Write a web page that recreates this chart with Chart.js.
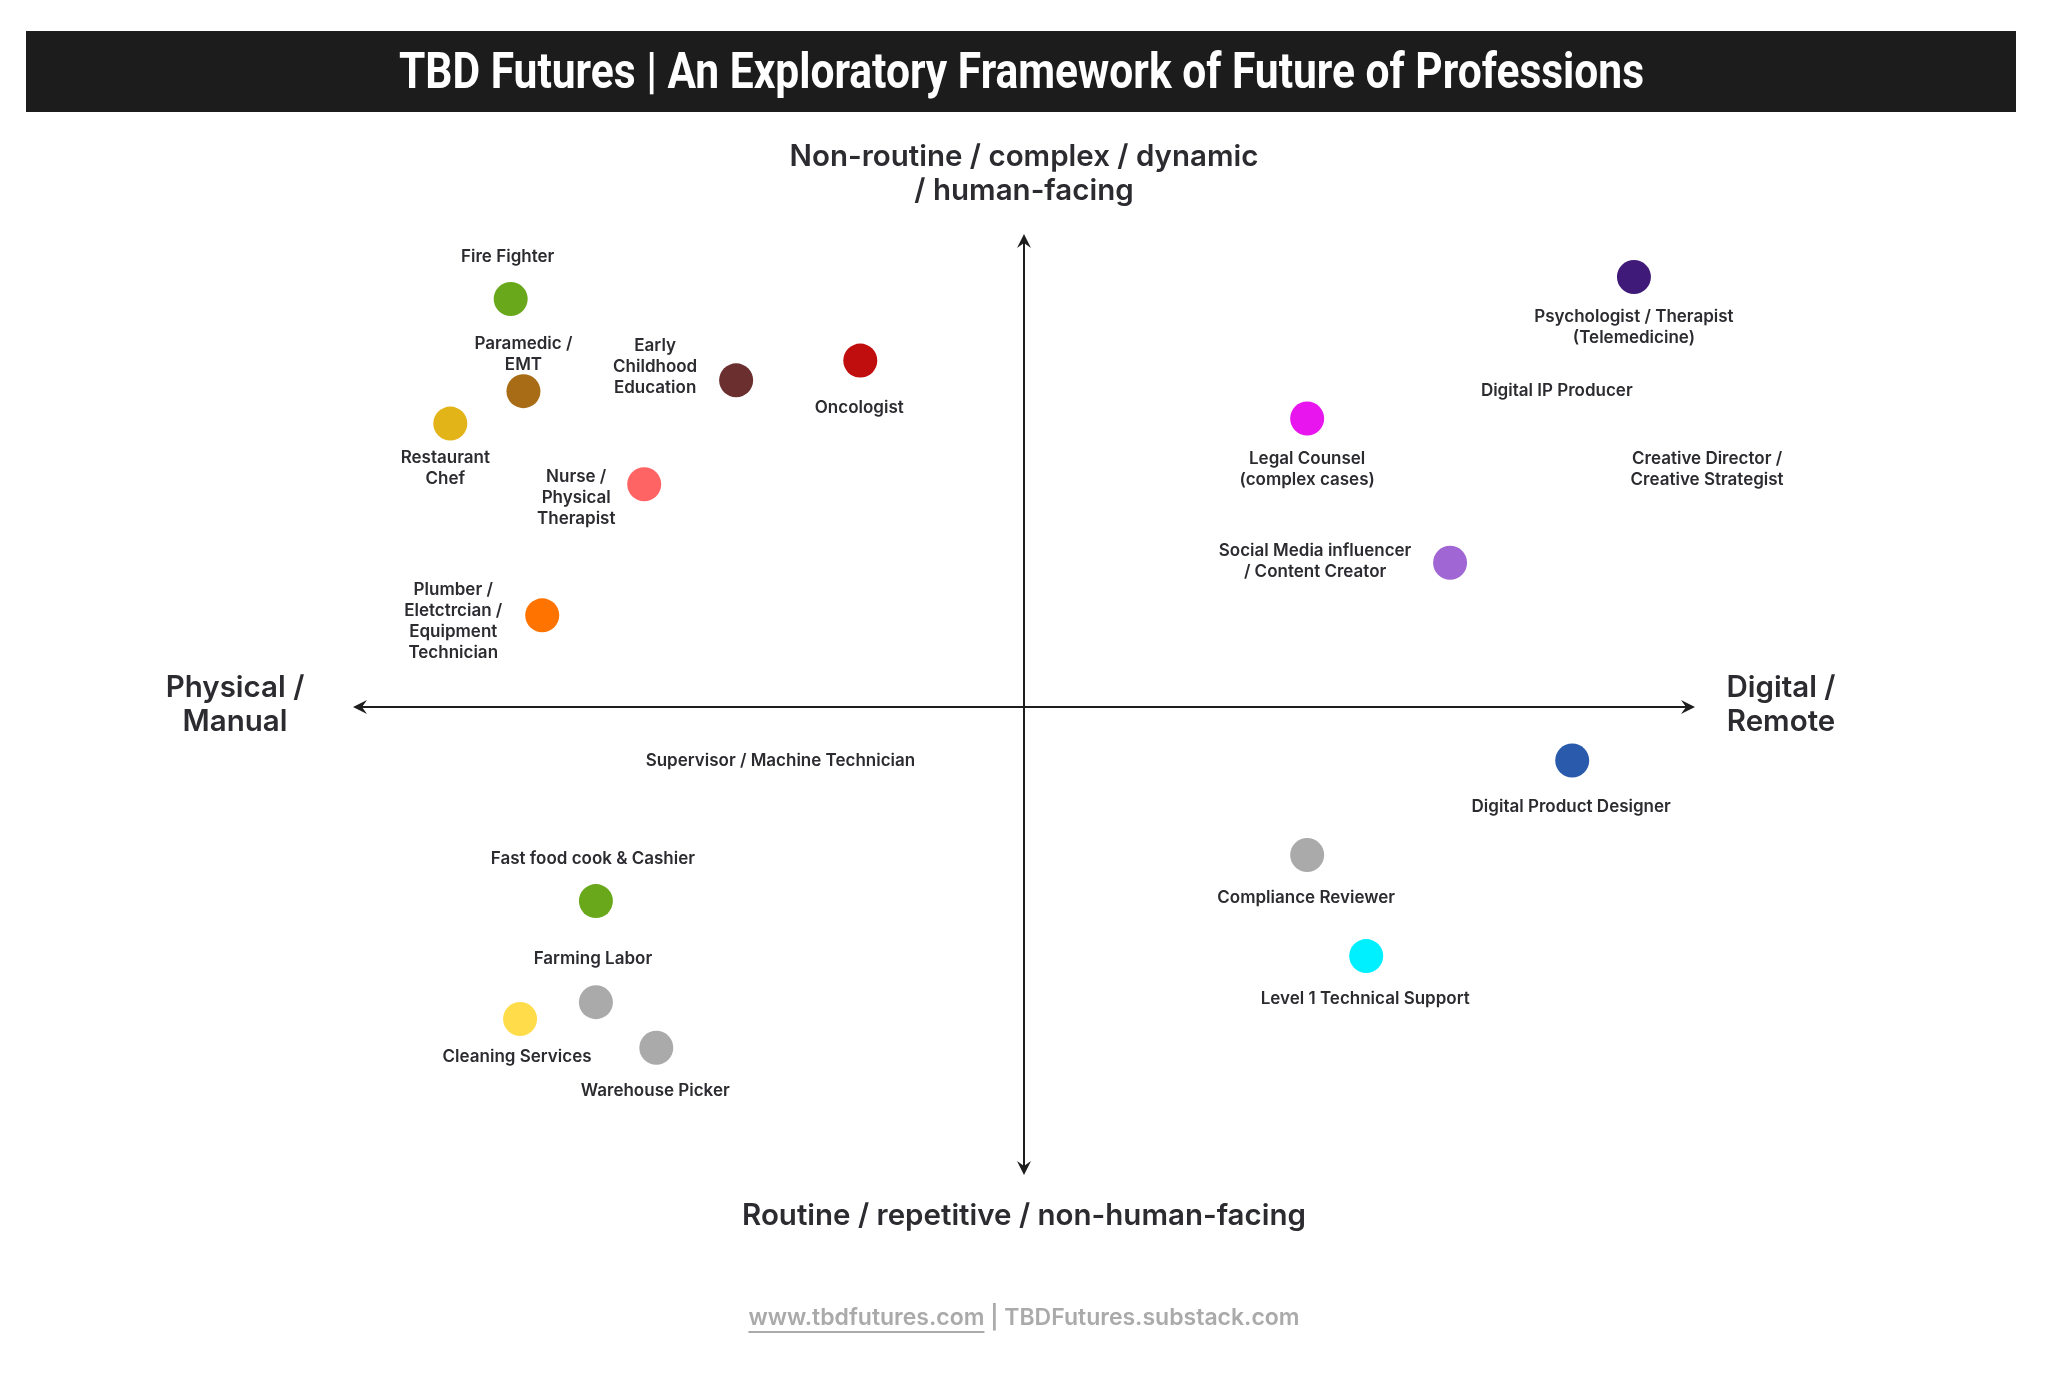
<!DOCTYPE html>
<html>
<head>
<meta charset="utf-8">
<title>TBD Futures | An Exploratory Framework of Future of Professions</title>
<script src="https://cdn.jsdelivr.net/npm/chart.js@4.4.1/dist/chart.umd.min.js"></script>
<style>
  html, body { margin: 0; padding: 0; background: #fff; }
  canvas { display: block; }
</style>
</head>
<body>
<canvas id="quadrant" width="2056" height="1374"></canvas>
<script>
// ---- data ----
const professions = [
  'Fire Fighter',
  'Paramedic /\nEMT',
  'Restaurant\nChef',
  'Early\nChildhood\nEducation',
  'Oncologist',
  'Nurse /\nPhysical\nTherapist',
  'Plumber /\nEletctrcian /\nEquipment\nTechnician',
  'Supervisor / Machine Technician',
  'Fast food cook & Cashier',
  'Farming Labor',
  'Cleaning Services',
  'Warehouse Picker',
  'Psychologist / Therapist\n(Telemedicine)',
  'Digital IP Producer',
  'Legal Counsel\n(complex cases)',
  'Creative Director /\nCreative Strategist',
  'Social Media influencer\n/ Content Creator',
  'Digital Product Designer',
  'Compliance Reviewer',
  'Level 1 Technical Support'
];
// x: physical/manual (-) .. digital/remote (+)
const xValues = [-7.65, -7.46, -8.55, -4.29, -2.44, -5.66, -7.18, -3.63, -6.38, -6.38, -7.51, -5.48, 9.09, 7.94, 4.22, 10.18, 6.35, 8.17, 4.22, 5.10];
// y: routine (-) .. non-routine / human-facing (+)
const yValues = [8.68, 6.72, 6.03, 6.95, 7.37, 4.74, 1.95, -1.14, -4.13, -6.28, -6.64, -7.25, 9.15, 6.72, 6.14, 5.05, 3.07, -1.14, -3.15, -5.30];
// null = label only, no dot in the reference
const dotColors = ['#6aa81b', '#a86c17', '#e3b417', '#6b2f2f', '#c00d0d', '#ff6464', '#ff7400', null,
  '#6aa81b', '#aaaaaa', '#ffdd4a', '#aaaaaa', '#401a78', null, '#e815ee', null, '#a066d3', '#2a5aab', '#aaaaaa', '#00f0ff'];

// ---- layout (label centre relative to its dot, px) ----
const labelShift = [
  [-3, -42], [0, -37], [-5, 45], [-81, -13], [-1, 47], [-68, 14], [-89, 6], [0, 0],
  [-3, -42], [-3, -43], [-3, 38], [-1, 43], [0, 50], [0, 0], [0, 51], [0, 0],
  [-135, -1], [-1, 46], [-1, 43], [-1, 43]
];

const INK = '#2b2b30';
const FONT = 'Inter, "Noto Sans", sans-serif';

function arrowHead(ctx, x, y, dir) {
  // dir: unit vector the arrow points along
  const [dx, dy] = dir;
  const len = 14, half = 7, notch = 9;
  const px = -dy, py = dx;
  ctx.beginPath();
  ctx.moveTo(x, y);
  ctx.lineTo(x - dx * len + px * half, y - dy * len + py * half);
  ctx.lineTo(x - dx * notch, y - dy * notch);
  ctx.lineTo(x - dx * len - px * half, y - dy * len - py * half);
  ctx.closePath();
  ctx.fill();
}

const framePlugin = {
  id: 'frame',
  beforeDraw(chart) {
    const { ctx, width, height, chartArea: a, scales } = chart;
    ctx.save();
    ctx.fillStyle = '#ffffff';
    ctx.fillRect(0, 0, width, height);

    // title bar
    ctx.fillStyle = '#1c1c1c';
    ctx.fillRect(26, 31, 1990, 81);
    const title = 'TBD Futures | An Exploratory Framework of Future of Professions';
    ctx.font = 'bold 50px Roboto, sans-serif';
    ctx.fillStyle = '#ffffff';
    ctx.textAlign = 'left';
    ctx.textBaseline = 'alphabetic';
    const tw = ctx.measureText(title).width;
    ctx.save();
    ctx.translate(399, 88);
    ctx.scale(1245 / tw, 1);
    ctx.fillText(title, 0, 0);
    ctx.restore();

    // axes with arrows
    const cx = scales.x.getPixelForValue(0);
    const cy = scales.y.getPixelForValue(0);
    const top = a.top - 3, bottom = a.bottom - 2;
    ctx.strokeStyle = '#1e1e1e';
    ctx.fillStyle = '#1e1e1e';
    ctx.lineWidth = 2;
    ctx.beginPath();
    ctx.moveTo(a.left + 6, cy); ctx.lineTo(a.right - 6, cy);
    ctx.moveTo(cx, top + 6); ctx.lineTo(cx, bottom - 6);
    ctx.stroke();
    arrowHead(ctx, a.left, cy, [-1, 0]);
    arrowHead(ctx, a.right, cy, [1, 0]);
    arrowHead(ctx, cx, top, [0, -1]);
    arrowHead(ctx, cx, bottom, [0, 1]);

    // axis captions
    ctx.fillStyle = INK;
    ctx.font = '600 29.5px ' + FONT;
    ctx.textAlign = 'center';
    ctx.textBaseline = 'middle';
    ctx.fillText('Non-routine / complex / dynamic', cx, 157);
    ctx.fillText('/ human-facing', cx, 191);
    ctx.fillText('Routine / repetitive / non-human-facing', cx, 1216);
    ctx.fillText('Physical /', 235, 688);
    ctx.fillText('Manual', 235, 722);
    ctx.fillText('Digital /', 1781, 688);
    ctx.fillText('Remote', 1781, 722);

    // footer
    ctx.font = '600 23px ' + FONT;
    ctx.fillStyle = '#aaaaaa';
    const link = 'www.tbdfutures.com';
    const rest = ' | TBDFutures.substack.com';
    const lw = ctx.measureText(link).width;
    const rw = ctx.measureText(rest).width;
    const fx = cx - (lw + rw) / 2;
    ctx.textAlign = 'left';
    ctx.fillText(link, fx, 1318);
    ctx.fillText(rest, fx + lw, 1318);
    ctx.fillRect(fx, 1331, lw, 2);
    ctx.restore();
  },
  afterDatasetsDraw(chart) {
    const { ctx } = chart;
    const meta = chart.getDatasetMeta(0);
    ctx.save();
    ctx.fillStyle = INK;
    ctx.font = '600 17px ' + FONT;
    ctx.textAlign = 'center';
    ctx.textBaseline = 'middle';
    const lineH = 21;
    meta.data.forEach((pt, i) => {
      const lines = professions[i].split('\n');
      const [dx, dy] = labelShift[i];
      const top = pt.y + dy - (lines.length - 1) * lineH / 2;
      lines.forEach((ln, k) => ctx.fillText(ln, pt.x + dx, top + k * lineH));
    });
    ctx.restore();
  }
};

new Chart(document.getElementById('quadrant'), {
  type: 'scatter',
  data: {
    datasets: [{
      label: 'Professions',
      data: xValues.map((x, i) => ({ x: x, y: yValues[i] })),
      pointBackgroundColor: dotColors.map(c => c || 'rgba(0,0,0,0)'),
      pointRadius: dotColors.map(c => c ? 17 : 0),
      pointHoverRadius: dotColors.map(c => c ? 17 : 0),
      pointBorderWidth: 0
    }]
  },
  options: {
    responsive: false,
    devicePixelRatio: 1,
    animation: false,
    layout: { padding: { left: 353, right: 361, top: 237, bottom: 197 } },
    scales: {
      x: { type: 'linear', min: -10, max: 10, display: false },
      y: { type: 'linear', min: -10, max: 10, display: false }
    },
    plugins: {
      legend: { display: false },
      tooltip: { enabled: false }
    }
  },
  plugins: [framePlugin]
});
</script>
</body>
</html>
